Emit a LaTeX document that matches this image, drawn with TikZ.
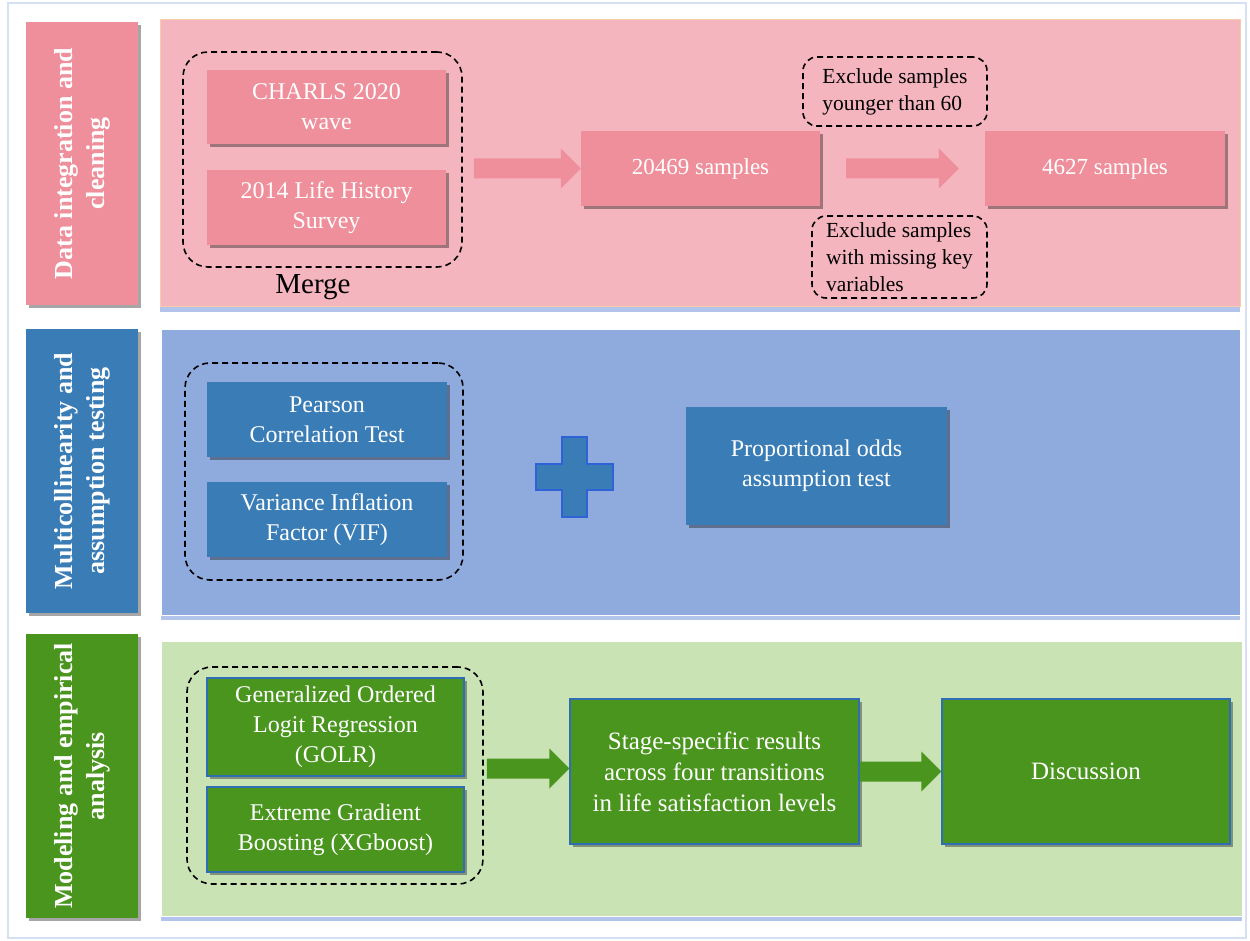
\documentclass[tikz,border=0pt]{standalone}
\usepackage{fontspec}
\setmainfont{Liberation Serif}
\usetikzlibrary{shadows,calc}
\definecolor{pinkbox}{HTML}{EE8F9B}
\definecolor{pinkpanel}{HTML}{F5B5BF}
\definecolor{pinkedge}{HTML}{F8CBAD}
\definecolor{bluebox}{HTML}{3A7DB6}
\definecolor{bluepanel}{HTML}{8FAADC}
\definecolor{greenbox}{HTML}{4A951E}
\definecolor{greenpanel}{HTML}{C9E3B5}
\definecolor{greenedge}{HTML}{2F6EB5}
\definecolor{plusedge}{HTML}{2E62D6}
\definecolor{glow}{HTML}{9FB6E8}
\definecolor{framecol}{HTML}{D5E0F2}
\newcommand\fatarrow[3]{%
  \fill[#1] let \p1=(#2), \p2=(#3) in
    (\x1,\y1+10pt) -- (\x2-20pt,\y1+10pt) -- (\x2-20pt,\y1+20pt) -- (\x2,\y1)
    -- (\x2-20pt,\y1-20pt) -- (\x2-20pt,\y1-10pt) -- (\x1,\y1-10pt) -- cycle;}
\begin{document}
\begin{tikzpicture}[x=1pt,y=-1pt,
  boxshadow/.style={drop shadow={shadow xshift=3pt,shadow yshift=-3pt,fill=black,opacity=0.35}},
  panelshadow/.style={drop shadow={shadow xshift=0pt,shadow yshift=-5pt,fill=glow,opacity=0.8}},
  labbox/.style={boxshadow,draw=none,inner sep=0pt,minimum width=112pt,minimum height=284pt},
  labtext/.style={rotate=90,align=center,text=white,font=\fontsize{26pt}{32pt}\selectfont\bfseries},
  panel/.style={panelshadow,inner sep=0pt,line width=1pt},
  boxtext/.style={text=white,align=center,inner sep=0pt,font=\fontsize{24pt}{30pt}\selectfont},
  pbox/.style={boxtext,fill=pinkbox,boxshadow},
  bbox/.style={boxtext,fill=bluebox,boxshadow},
  gbox/.style={boxtext,fill=greenbox,draw=greenedge,line width=1.5pt,boxshadow},
  dashbox/.style={draw=black,line width=1.6pt,dash pattern=on 6pt off 4pt,rounded corners=25pt,inner sep=0pt},
  smalldash/.style={draw=black,line width=1.6pt,dash pattern=on 6pt off 4pt,rounded corners=14pt,inner sep=0pt,
     align=left,text=black,font=\fontsize{21.5pt}{27pt}\selectfont},
]
\useasboundingbox (0,0) rectangle (1250,941);
\fill[white] (0,0) rectangle (1250,941);
\draw[framecol,line width=2pt] (8,3) rectangle (1246,938);

% ---------- Row 1 ----------
\node[panel,fill=pinkpanel,draw=pinkedge,minimum width=1080pt,minimum height=287pt] (p1) at (700,163.5) {};
\node[labbox,fill=pinkbox,minimum height=283pt] (l1) at (82,163.5) {};
\node[labtext] (l1t) at (l1) {Data integration and\\cleaning};
\node[dashbox,minimum width=279pt,minimum height=215pt] (merge) at (322.5,159.5) {};
\node[pbox,minimum width=239pt,minimum height=74pt] (charls) at (326.5,107) {CHARLS 2020\\wave};
\node[pbox,minimum width=239pt,minimum height=75pt] (life) at (326.5,207.5) {2014 Life History\\Survey};
\node[font=\fontsize{29pt}{32pt}\selectfont] (mergelab) at (313,287) {Merge};
\node[pbox,minimum width=239pt,minimum height=75pt,font=\fontsize{23pt}{30pt}\selectfont] (s1) at (700.5,168.5) {20469 samples};
\node[pbox,minimum width=240pt,minimum height=75pt,font=\fontsize{23pt}{30pt}\selectfont] (s2) at (1105,168.5) {4627 samples};
\node[smalldash,minimum width=184pt,minimum height=69pt] (ex1) at (895,91.5) {Exclude samples\\younger than 60};
\node[smalldash,minimum width=175pt,minimum height=82pt] (ex2) at (899.5,257) {Exclude samples\\with missing key\\variables};
\coordinate (a1s) at ($(merge.east |- s1.west)+(11,0)$);
\coordinate (a2s) at ($(s1.east)+(26,0)$);
\coordinate (a2e) at ($(s2.west)+(-26,0)$);
\fatarrow{pinkbox}{a1s}{s1.west}
\fatarrow{pinkbox}{a2s}{a2e}

% ---------- Row 2 ----------
\node[panel,fill=bluepanel,draw=white,minimum width=1079pt,minimum height=286pt] (p2) at (700.5,472) {};
\node[labbox,fill=bluebox] (l2) at (82,471) {};
\node[labtext] (l2t) at (l2) {Multicollinearity and\\assumption testing};
\node[dashbox,minimum width=278pt,minimum height=217pt] (multi) at (324,471.5) {};
\node[bbox,minimum width=240pt,minimum height=75pt] (pear) at (327,419.5) {Pearson\\Correlation Test};
\node[bbox,minimum width=240pt,minimum height=75pt] (vif) at (327,519.5) {Variance Inflation\\Factor (VIF)};
\fill[bluebox,draw=plusedge,line width=1.5pt] (562,437) -- (587,437) -- (587,464) -- (613,464) -- (613,490)
  -- (587,490) -- (587,517) -- (562,517) -- (562,490) -- (536,490) -- (536,464) -- (562,464) -- cycle;
\node[bbox,minimum width=261pt,minimum height=118pt] (prop) at (816.5,466) {Proportional odds\\assumption test};

% ---------- Row 3 ----------
\node[panel,fill=greenpanel,draw=white,minimum width=1081pt,minimum height=275pt] (p3) at (701.5,778.5) {};
\node[labbox,fill=greenbox] (l3) at (82,776) {};
\node[labtext] (l3t) at (l3) {Modeling and empirical\\analysis};
\node[dashbox,minimum width=296pt,minimum height=217pt] (models) at (335,775.5) {};
\node[gbox,minimum width=257pt,minimum height=98pt] (golr) at (335.5,727) {Generalized Ordered\\Logit Regression\\(GOLR)};
\node[gbox,minimum width=257pt,minimum height=85pt] (xgb) at (335.5,829.5) {Extreme Gradient\\Boosting (XGboost)};
\node[gbox,minimum width=289pt,minimum height=145pt,font=\fontsize{25pt}{31pt}\selectfont] (stage) at (714.5,771.5) {Stage-specific results\\across four transitions\\in life satisfaction levels};
\node[gbox,minimum width=288pt,minimum height=145pt,font=\fontsize{25pt}{31pt}\selectfont] (disc) at (1086,771.5) {Discussion};
\coordinate (a3s) at ($(models.east |- stage.west)+(3,-3)$);
\coordinate (a3e) at ($(stage.west)+(0,-3)$);
\fatarrow{greenbox}{a3s}{a3e}
\fatarrow{greenbox}{stage.east}{disc.west}
\end{tikzpicture}
\end{document}
